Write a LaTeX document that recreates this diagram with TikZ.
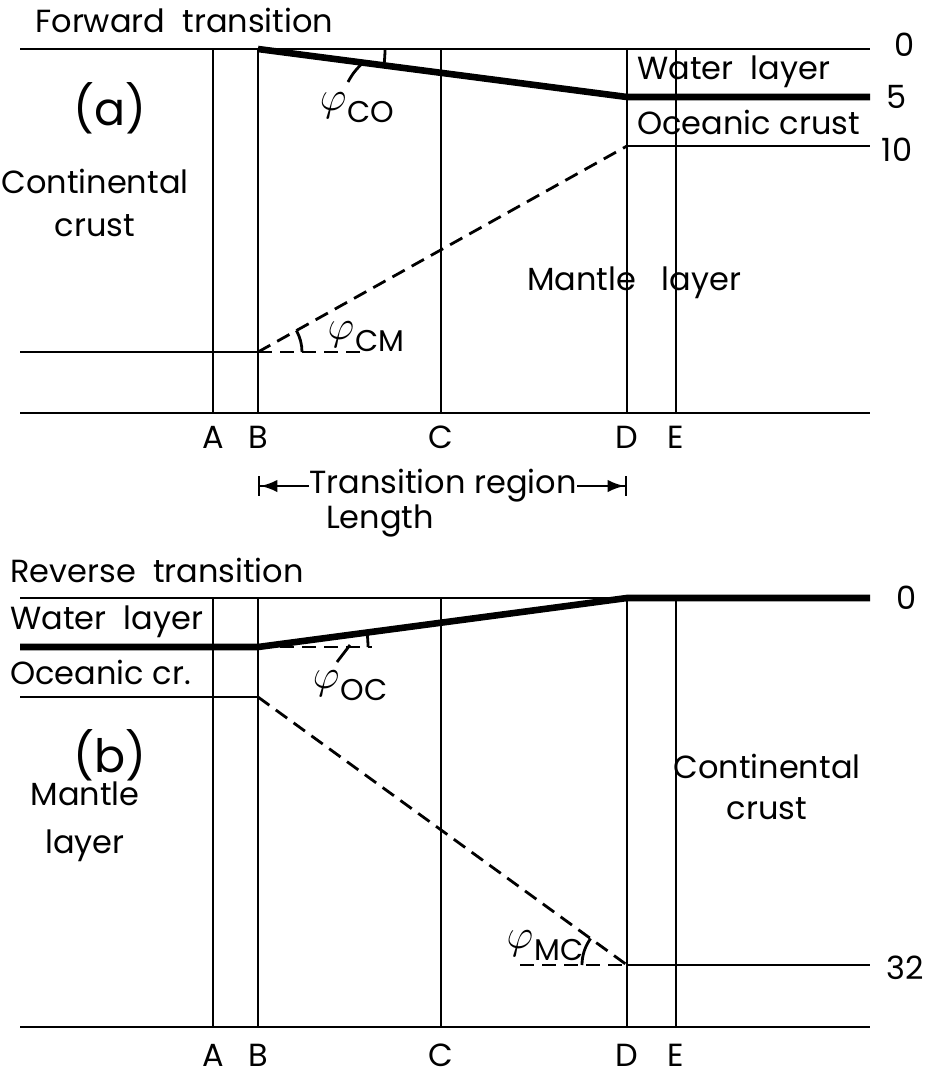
\documentclass[tikz,border=0pt]{standalone}
\usepackage{fontspec}
\setmainfont{Poppins}
\usetikzlibrary{arrows.meta}
\newcommand{\angl}[1]{{\fontsize{21}{21}\selectfont$\varphi$}\kern0.5pt\raisebox{-6pt}{\fontsize{15}{15}\selectfont #1}}

\begin{document}
\begin{tikzpicture}[x=0.5pt,y=-0.5pt,
    layer/.style={line width=1.4pt},
    moho/.style={line width=3.3pt,line join=round},
    slope/.style={line width=1.4pt,dash pattern=on 7pt off 4pt},
    lbl/.style={font=\fontsize{16}{21.5}\selectfont,inner sep=0pt,align=center},
    tag/.style={lbl,anchor=west},
    span/.style={-{Latex[length=3mm,width=2.2mm]Bar[width=3.5mm]},line width=1.2pt}
  ]
  \useasboundingbox (0,0) rectangle (932,1078);

  % panel (a)
  \draw[layer] (20,49) -- (870,49);
  \draw[layer] (20,413) -- (870,413);
  \draw[layer] (20,352) -- (258,352);
  \draw[layer] (627,146) -- (870,146);
  \draw[moho] (258,49) -- (627,97) -- (870,97);
  \draw[slope] (258,352) -- (627,146);
  \draw[slope] (258,352) -- (365,352);
  \draw[layer] (385,49) arc[start angle=0,end angle=-7.4,radius=63.5pt];
  \draw[layer] (302,352) arc[start angle=0,end angle=29.2,radius=22pt];
  \draw[layer] (348,82) to[bend left=10] (364,62);

  % panel (b)
  \draw[layer] (20,598) -- (627,598);
  \draw[layer] (20,1027) -- (870,1027);
  \draw[layer] (20,697) -- (258,697);
  \draw[layer] (627,965) -- (870,965);
  \draw[moho] (20,647) -- (258,647) -- (627,598) -- (870,598);
  \draw[slope] (258,697) -- (627,965);
  \draw[slope] (258,647) -- (372,647);
  \draw[slope] (520,965) -- (627,965);
  \draw[layer] (368,647) arc[start angle=0,end angle=7.6,radius=55pt];
  \draw[layer] (582,965) arc[start angle=180,end angle=144,radius=22.5pt];
  \draw[layer] (337,662) -- (350,645);

  \foreach \n/\x in {A/213,B/258,C/441,D/627,E/676}{
    \draw[layer] (\x,49) -- (\x,413);
    \draw[layer] (\x,598) -- (\x,1027);
    \node[lbl] (a\n) at (\x,437) {\n};
    \node[lbl] (b\n) at (\x,1055) {\n};
  }

  \node[tag] (fwd) at (35,20) {Forward\ \ transition};
  \node[lbl,font=\fontsize{23}{25}\selectfont] (pa) at (110,108) {(a)};
  \node[lbl] (ccA) at (95,203) {Continental\\crust};
  \node[tag] (wlA) at (637,72) {Water\ \ layer};
  \node[tag] (ocA) at (637,122) {Oceanic crust};
  \node[lbl] (mlA) at (634,283) {Mantle\ \ \ layer};
  \node[lbl] (d0A) at (905,45) {0};
  \node[lbl] (d5A) at (897,97) {5};
  \node[lbl] (d10A) at (897,150) {10};
  \node[lbl] (phiCO) at (357,108) {\angl{CO}};
  \node[lbl] (phiCM) at (366,337) {\angl{CM}};

  \node[lbl] (trans) at (443,486) {Transition region};
  \coordinate (trL) at (258,486);
  \coordinate (trR) at (627,486);
  \draw[span] (trans.west) -- (trL);
  \draw[span] (trans.east) -- (trR);
  \node[lbl] (len) at (380,521) {Length};

  \node[tag] (rev) at (10,570) {Reverse\ \ transition};
  \node[tag] (wlB) at (10,622) {Water\ \ layer};
  \node[tag] (ocB) at (10,672) {Oceanic cr.};
  \node[lbl,font=\fontsize{23}{25}\selectfont] (pb) at (110,755) {(b)};
  \node[lbl,font=\fontsize{16}{24}\selectfont] (mlB) at (85,822) {Mantle\\layer};
  \node[lbl,font=\fontsize{16}{20.5}\selectfont] (ccB) at (767,787) {Continental\\crust};
  \node[lbl] (d0B) at (907,598) {0};
  \node[lbl] (d32B) at (905,968) {32};
  \node[lbl] (phiOC) at (350,686) {\angl{OC}};
  \node[lbl] (phiMC) at (545,946) {\angl{MC}};
\end{tikzpicture}
\end{document}
